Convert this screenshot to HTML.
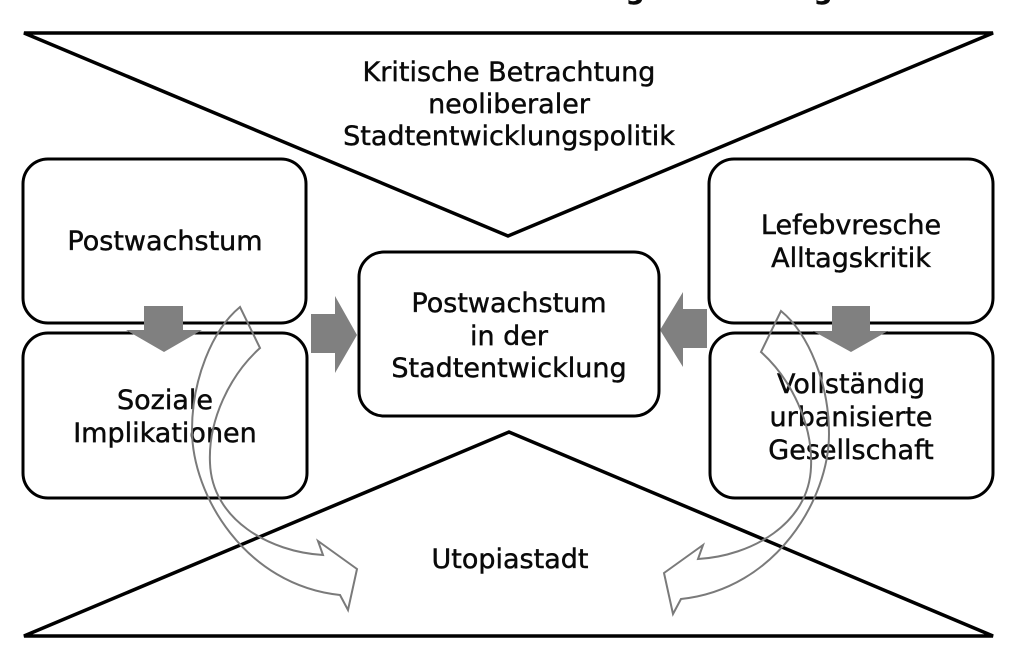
<!DOCTYPE html>
<html>
<head>
<meta charset="utf-8">
<style>
  html, body { margin: 0; padding: 0; background: #ffffff; }
  body { width: 1024px; height: 663px; overflow: hidden; }
  svg { display: block; }
  text { font-family: "DejaVu Sans", "Liberation Sans", sans-serif; font-size: 27px; fill: #0a0a0a; stroke: #0a0a0a; stroke-width: 0.45px; }
</style>
</head>
<body>
<svg width="1024" height="663" viewBox="0 0 1024 663" xmlns="http://www.w3.org/2000/svg">
  <rect x="0" y="0" width="1024" height="663" fill="#ffffff"/>

  <!-- cut-off title descenders -->
  <text x="635" y="-1" text-anchor="middle" style="font-weight:bold;font-size:26px">g</text>
  <text x="823" y="-1" text-anchor="middle" style="font-weight:bold;font-size:26px">g</text>

  <!-- top inverted triangle -->
  <path d="M24,33 L993,33 L508,236 Z" fill="none" stroke="#000" stroke-width="3.5" stroke-linejoin="miter"/>
  <!-- bottom triangle -->
  <path d="M24,636 L993,636 L509,432 Z" fill="none" stroke="#000" stroke-width="3.5" stroke-linejoin="miter"/>

  <!-- boxes -->
  <rect x="23" y="159" width="283" height="164" rx="25" ry="25" fill="#fff" stroke="#000" stroke-width="3"/>
  <rect x="23" y="333" width="284" height="165" rx="25" ry="25" fill="#fff" stroke="#000" stroke-width="3"/>
  <rect x="359" y="252" width="300" height="164" rx="25" ry="25" fill="#fff" stroke="#000" stroke-width="3"/>
  <rect x="709" y="159" width="284" height="164" rx="25" ry="25" fill="#fff" stroke="#000" stroke-width="3"/>
  <rect x="710" y="333" width="283" height="165" rx="25" ry="25" fill="#fff" stroke="#000" stroke-width="3"/>

  <!-- gray block arrows -->
  <polygon points="144,306 183,306 183,330 202,330 164,352 126,330 144,330" fill="#808080"/>
  <polygon points="832,306 870,306 870,331 888,331 851,352 813,331 832,331" fill="#808080"/>
  <polygon points="311,314 335,314 335,296 357,335 335,373 335,353 311,353" fill="#808080"/>
  <polygon points="707,309 683,309 683,292 660,330 683,367 683,348 707,348" fill="#808080"/>

  <!-- texts -->
  <text x="509" y="81" text-anchor="middle">Kritische Betrachtung</text>
  <text x="509" y="113" text-anchor="middle">neoliberaler</text>
  <text x="509" y="145" text-anchor="middle">Stadtentwicklungspolitik</text>

  <text x="165" y="250" text-anchor="middle">Postwachstum</text>

  <text x="165" y="409" text-anchor="middle">Soziale</text>
  <text x="165" y="442" text-anchor="middle">Implikationen</text>

  <text x="509" y="312" text-anchor="middle">Postwachstum</text>
  <text x="509" y="345" text-anchor="middle">in der</text>
  <text x="509" y="377" text-anchor="middle">Stadtentwicklung</text>

  <text x="851" y="234" text-anchor="middle">Lefebvresche</text>
  <text x="851" y="267" text-anchor="middle">Alltagskritik</text>

  <text x="851" y="393" text-anchor="middle">Vollständig</text>
  <text x="851" y="426" text-anchor="middle">urbanisierte</text>
  <text x="851" y="459" text-anchor="middle">Gesellschaft</text>

  <text x="510" y="568" text-anchor="middle">Utopiastadt</text>

  <!-- curved outline arrows -->
  <path d="M240,307 C212,330 192,380 192,430 C192,495 245,585 340,595 L348,610 L357,569 L318,541 L323,555 C270,552 212,520 210,463 C208,420 230,375 260,348 Z"
        fill="none" stroke="#7a7a7a" stroke-width="2" stroke-linejoin="miter"/>
  <g transform="translate(1021,4) scale(-1,1)">
    <path d="M240,307 C212,330 192,380 192,430 C192,495 245,585 340,595 L348,610 L357,569 L318,541 L323,555 C270,552 212,520 210,463 C208,420 230,375 260,348 Z"
          fill="none" stroke="#7a7a7a" stroke-width="2" stroke-linejoin="miter"/>
  </g>
</svg>
</body>
</html>
